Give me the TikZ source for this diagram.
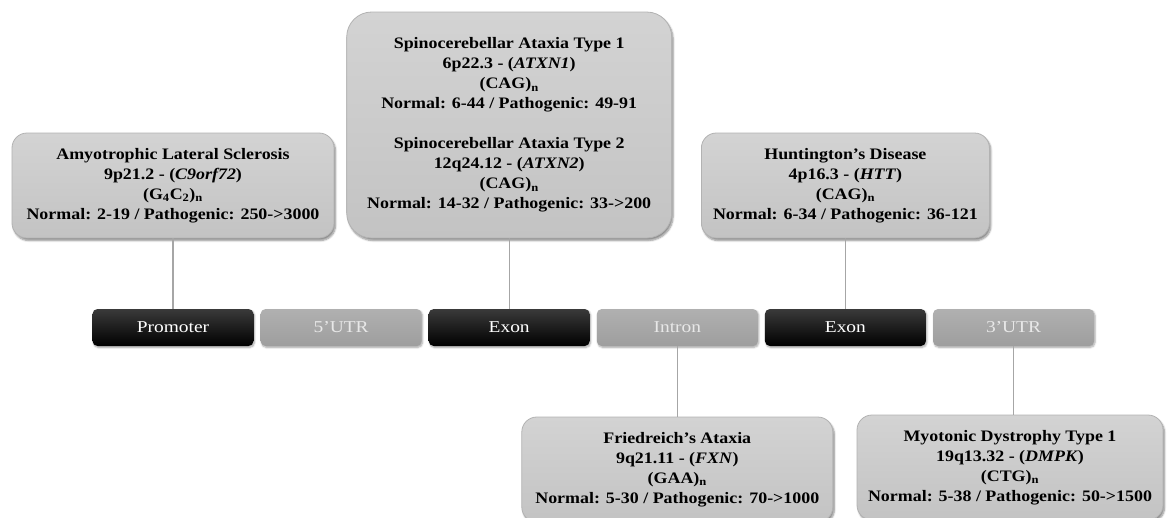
\documentclass[tikz,border=0pt]{standalone}
\usepackage{fontspec}
\setmainfont{Liberation Serif}
\newfontfamily\boxfont[FakeStretch=1.12]{Liberation Serif}
\newfontfamily\barfont[FakeStretch=1.17]{Liberation Serif}
\usetikzlibrary{shadows.blur}
\definecolor{boxtop}{HTML}{D3D3D3}
\definecolor{boxbot}{HTML}{C3C3C3}
\definecolor{boxline}{HTML}{B2B2B2}
\definecolor{darktop}{HTML}{3A3A3A}
\definecolor{lighttop}{HTML}{B0B0B0}
\definecolor{lightbot}{HTML}{9E9E9E}
\definecolor{lighttext}{HTML}{E8E8E8}
\definecolor{linkgray}{HTML}{A6A6A6}
\tikzset{
  info/.style={draw=boxline, line width=0.8pt, rounded corners=15pt,
    top color=boxtop, bottom color=boxbot, align=center, inner sep=0pt,
    font=\boxfont\bfseries\fontsize{16}{20}\selectfont, text=black,
    blur shadow={shadow xshift=1.5pt, shadow yshift=-2.5pt, shadow blur steps=6, shadow opacity=45}},
  barbase/.style={rounded corners=5pt, minimum width=161pt, minimum height=37pt,
    inner sep=0pt, font=\barfont\fontsize{16.6}{20}\selectfont,
    blur shadow={shadow xshift=1pt, shadow yshift=-1.5pt, shadow blur steps=5, shadow opacity=35}},
  darkbar/.style={barbase, top color=darktop, bottom color=black, text=white},
  lightbar/.style={barbase, top color=lighttop, bottom color=lightbot, text=lighttext},
  link/.style={draw=linkgray, line width=1.2pt}
}
\begin{document}
\begin{tikzpicture}[x=1pt, y=-1pt]
\path[use as bounding box] (0,0) rectangle (1167,517);
\clip (0,0) rectangle (1167,517);

% gene structure bars
\node[darkbar]  (prom)  at (173,327.5)   {Promoter};
\node[lightbar] (utr5)  at (341.1,327.5) {5’UTR};
\node[darkbar]  (exon1) at (509.2,327.5) {Exon};
\node[lightbar] (intr)  at (677.3,327.5) {Intron};
\node[darkbar]  (exon2) at (845.4,327.5) {Exon};
\node[lightbar] (utr3)  at (1013.5,327.5) {3’UTR};

% disease boxes
\node[info, minimum width=322pt, minimum height=105pt] (als) at (173,185.5)
  {Amyotrophic Lateral Sclerosis\\
   9p21.2 - (\textit{C9orf72})\\
   (G\textsubscript{4}C\textsubscript{2})\textsubscript{n}\\
   Normal: 2-19 / Pathogenic: 250->3000};
\node[info, rounded corners=25pt, minimum width=325pt, minimum height=226pt] (sca) at (509.2,125)
  {Spinocerebellar Ataxia Type 1\\
   6p22.3 - (\textit{ATXN1})\\
   (CAG)\textsubscript{n}\\
   Normal: 6-44 / Pathogenic: 49-91\\[20pt]
   Spinocerebellar Ataxia Type 2\\
   12q24.12 - (\textit{ATXN2})\\
   (CAG)\textsubscript{n}\\
   Normal: 14-32 / Pathogenic: 33->200};
\node[info, minimum width=288pt, minimum height=105pt] (hd) at (845.4,185.5)
  {Huntington’s Disease\\
   4p16.3 - (\textit{HTT})\\
   (CAG)\textsubscript{n}\\
   Normal: 6-34 / Pathogenic: 36-121};
\node[info, minimum width=311pt, minimum height=105pt] (fa) at (677.3,469.5)
  {Friedreich’s Ataxia\\
   9q21.11 - (\textit{FXN})\\
   (GAA)\textsubscript{n}\\
   Normal: 5-30 / Pathogenic: 70->1000};
\node[info, minimum width=306pt, minimum height=105pt] (dm) at (1010,467.5)
  {Myotonic Dystrophy Type 1\\
   19q13.32 - (\textit{DMPK})\\
   (CTG)\textsubscript{n}\\
   Normal: 5-38 / Pathogenic: 50->1500};

% connectors
\draw[link] (als) -- (prom);
\draw[link] (sca) -- (exon1);
\draw[link] (hd) -- (exon2);
\draw[link] (intr) -- (fa);
\draw[link] (utr3) -- (utr3 |- dm.north);
\end{tikzpicture}
\end{document}
